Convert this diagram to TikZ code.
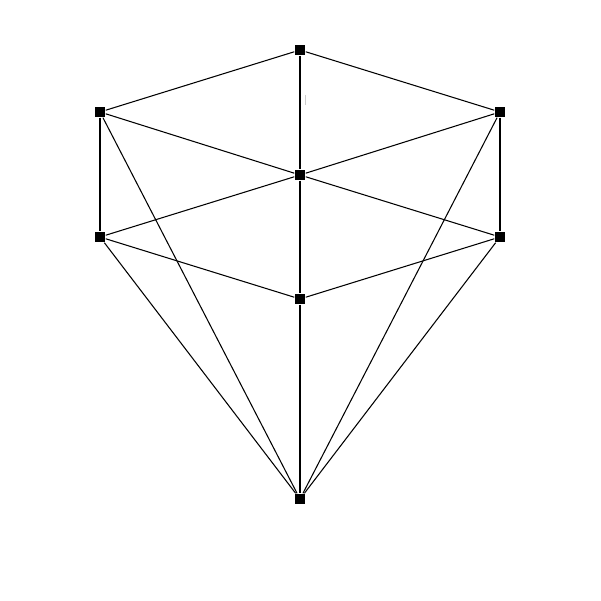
\documentclass[tikz,border=0pt]{standalone}
\usepackage{tikz}
\usetikzlibrary{backgrounds}

\begin{document}
\begin{tikzpicture}[x=1cm,y=-1cm,
  vertex/.style={fill=black,inner sep=0pt,minimum size=0.1cm,shape=rectangle},
  edge/.style={black,line width=0.3pt}]

\useasboundingbox (0,0) rectangle (6.01,6.01);

\node [vertex] (top) at (3,0.5) {};
\node [vertex] (ul) at (1,1.12) {};
\node [vertex] (ur) at (5,1.12) {};
\node [vertex] (mid) at (3,1.75) {};
\node [vertex] (ll) at (1,2.37) {};
\node [vertex] (lr) at (5,2.37) {};
\node [vertex] (low) at (3,2.99) {};
\node [vertex] (bot) at (3,4.99) {};

\draw [edge] (top) -- (ul);
\draw [edge] (top) -- (ur);
\draw [edge] (top) -- (mid);
\draw [edge] (ul) -- (mid);
\draw [edge] (ur) -- (mid);
\draw [edge] (mid) -- (ll);
\draw [edge] (mid) -- (lr);
\draw [edge] (ul) -- (ll);
\draw [edge] (ur) -- (lr);
\draw [edge] (ll) -- (low);
\draw [edge] (lr) -- (low);
\draw [edge] (mid) -- (low);
\draw [edge] (low) -- (bot);
\draw [edge] (ul) -- (bot);
\draw [edge] (ur) -- (bot);
\draw [edge] (ll) -- (bot);
\draw [edge] (lr) -- (bot);

\draw [gray!40, line width=0.2pt] (3.05,0.95) -- (3.05,1.05);

\end{tikzpicture}
\end{document}
